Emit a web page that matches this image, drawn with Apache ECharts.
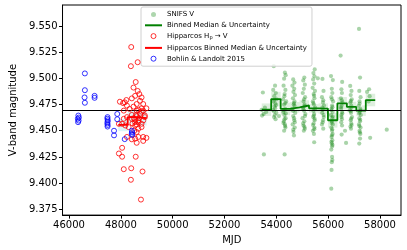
<!DOCTYPE html>
<html><head><meta charset="utf-8">
<script src="https://cdn.jsdelivr.net/npm/echarts@6/dist/echarts.min.js"></script>
<style>html,body{margin:0;padding:0;background:#fff}#c{width:407px;height:250px}</style>
</head><body><div id="c"></div>
<script>
// ---- data ----
const xTicks = [46000, 48000, 50000, 52000, 54000, 56000, 58000];
const yTicks = [9.375, 9.400, 9.425, 9.450, 9.475, 9.500, 9.525, 9.550];
const referenceMag = 9.4722;

const snifsV = [
 [53480,9.4865],[53560,9.4720],[53430,9.4700],[53610,9.4680],[53510,9.4660],[53450,9.4645],[53520,9.4274],
 [53900,9.5116],[53950,9.4930],[53880,9.4890],[53980,9.4860],[53920,9.4830],[54010,9.4800],[53890,9.4780],[53960,9.4760],[53930,9.4730],[53870,9.4700],[54000,9.4670],[53940,9.4650],[53910,9.4630],[53970,9.4610],[54100,9.4640],
 [53990,9.4745],[53905,9.4685],[53955,9.4715],[53925,9.4795],
 [54330,9.5054],[54360,9.5030],[54300,9.4997],[54280,9.4930],[54350,9.4890],[54320,9.4850],[54260,9.4800],[54380,9.4780],[54300,9.4750],[54340,9.4710],[54270,9.4680],[54310,9.4650],[54360,9.4620],[54290,9.4590],[54330,9.4560],[54350,9.4530],[54300,9.4500],[54320,9.4274],
 [54310,9.4830],[54345,9.4765],[54285,9.4695],[54365,9.4665],[54315,9.4610],[54275,9.4575],[54340,9.4545],
 [54650,9.4990],[54700,9.4960],[54620,9.4930],[54690,9.4900],[54660,9.4870],[54720,9.4840],[54640,9.4810],[54700,9.4780],[54670,9.4750],[54610,9.4710],[54730,9.4670],[54650,9.4640],[54690,9.4600],[54630,9.4560],[54710,9.4530],[54660,9.4490],[54680,9.4455],
 [54680,9.4765],[54705,9.4735],[54645,9.4690],[54685,9.4620],[54715,9.4580],[54655,9.4510],
 [55080,9.5007],[55040,9.4980],[55100,9.4940],[55060,9.4900],[55020,9.4860],[55110,9.4820],[55050,9.4780],[55090,9.4750],[55030,9.4720],[55070,9.4690],[55120,9.4660],[55010,9.4620],[55080,9.4590],[55050,9.4550],[55100,9.4520],[55060,9.4500],
 [55070,9.4800],[55095,9.4735],[55045,9.4705],[55105,9.4640],[55035,9.4570],[55085,9.4535],
 [55480,9.5085],[55430,9.5050],[55470,9.5020],[55420,9.4990],[55460,9.4950],[55400,9.4910],[55490,9.4880],[55440,9.4850],[55470,9.4810],[55410,9.4780],[55450,9.4750],[55500,9.4720],[55430,9.4690],[55460,9.4660],[55420,9.4630],[55480,9.4600],[55440,9.4570],[55470,9.4530],[55410,9.4500],[55450,9.4470],[55460,9.4390],[55600,9.5000],
 [55455,9.4835],[55425,9.4765],[55485,9.4705],[55445,9.4645],[55475,9.4615],[55415,9.4555],[55465,9.4515],
 [55780,9.4995],[55820,9.4880],[55760,9.4820],[55800,9.4770],[55840,9.4740],[55790,9.4700],[55770,9.4670],[55830,9.4630],[55800,9.4600],[55760,9.4560],[55810,9.4520],
 [55810,9.4790],[55775,9.4720],[55825,9.4650],[55790,9.4580],
 [56110,9.5022],[56180,9.4984],[56140,9.4900],[56160,9.4860],[56120,9.4820],[56190,9.4780],[56150,9.4740],[56130,9.4710],[56170,9.4680],[56110,9.4650],[56160,9.4620],[56140,9.4590],[56180,9.4560],[56120,9.4530],[56150,9.4500],[56170,9.4470],[56130,9.4440],[56160,9.4410],[56140,9.4380],[56150,9.4350],[56120,9.4320],[56160,9.4220],[56140,9.4200],[56130,9.4126],[56120,9.3947],
 [56145,9.4800],[56165,9.4725],[56125,9.4695],[56175,9.4635],[56135,9.4575],[56155,9.4515],[56145,9.4455],[56125,9.4395],[56165,9.4365],[56150,9.4250],
 [56480,9.5217],[56540,9.4966],[56510,9.4896],[56530,9.4860],[56490,9.4810],[56550,9.4770],[56520,9.4740],[56500,9.4710],[56540,9.4680],[56510,9.4650],[56530,9.4610],[56520,9.4463],[56690,9.4384],[56650,9.4500],
 [56525,9.4790],[56495,9.4725],[56545,9.4665],[56515,9.4630],[56505,9.4580],[56535,9.4550],
 [56850,9.4928],[56900,9.4880],[56870,9.4840],[56910,9.4800],[56860,9.4770],[56890,9.4740],[56840,9.4700],[56880,9.4670],[56920,9.4630],[56870,9.4600],[56890,9.4570],[56860,9.4540],[56880,9.4520],
 [56875,9.4785],[56895,9.4720],[56865,9.4685],[56885,9.4615],[56905,9.4555],
 [57190,9.5472],[57230,9.5007],[57200,9.4880],[57250,9.4820],[57210,9.4780],[57180,9.4740],[57240,9.4710],[57220,9.4680],[57260,9.4650],[57200,9.4620],[57230,9.4590],[57190,9.4560],[57250,9.4530],[57210,9.4500],[57240,9.4470],[57230,9.4425],[57200,9.4378],
 [57215,9.4760],[57245,9.4695],[57195,9.4665],[57235,9.4605],[57205,9.4545],[57225,9.4485],
 [57580,9.4896],[57600,9.4830],[57560,9.4780],[57620,9.4432],[57500,9.4870],
 [58260,9.4510]
];

const snifsBinEdges = [53436, 53801, 54166, 54531, 54896, 55261, 55626, 55991, 56356, 56721, 57086, 57451, 57816];
const snifsBinMedian = [9.4701, 9.4802, 9.4708, 9.4724, 9.4741, 9.4714, 9.4712, 9.4600, 9.4762, 9.4727, 9.4692, 9.4793];
const snifsBinErr = [0.006, 0.007, 0.006, 0.005, 0.005, 0.004, 0.005, 0.007, 0.006, 0.005, 0.005, 0.006];

const hipparcosV = [
 [48401,9.5299],[48388,9.5116],[48649,9.5154],[48574,9.4965],[48488,9.4912],[48649,9.4880],[48713,9.4850],[48551,9.4833],[48799,9.4818],[48424,9.4809],
 [48739,9.4786],[48214,9.4793],[47963,9.4777],[48086,9.4764],[48150,9.4771],[48611,9.4755],[48863,9.4755],[48236,9.4739],[48488,9.4730],[48338,9.4708],
 [48799,9.4714],[48986,9.4714],[48675,9.4701],[48863,9.4692],[48113,9.4692],[48589,9.4651],[48739,9.4660],[48926,9.4630],[48236,9.4630],[48424,9.4614],
 [48113,9.4614],[48675,9.4597],[48551,9.4582],[47925,9.4566],[48175,9.4550],[48799,9.4566],
 [48611,9.4692],[48799,9.4682],[48424,9.4651],[48926,9.4645],[48551,9.4607],[48675,9.4582],[48863,9.4598],[48049,9.4566],[48300,9.4535],[48551,9.4550],
 [48675,9.4519],[48799,9.4535],[48611,9.4488],[48236,9.4441],[48675,9.4441],[48863,9.4441],[48986,9.4432],[48424,9.4418],[48551,9.4425],[48611,9.4385],
 [48863,9.4403],[48049,9.4337],[47925,9.4283],[48049,9.4252],[48574,9.4252],[48113,9.4133],[48401,9.4142],[48836,9.4111],[48388,9.4032],[48776,9.3843],
 [48500,9.4620],[48600,9.4560],[48450,9.4570],[48700,9.4620],[48520,9.4500],[48620,9.4640]
];

const hipBinEdges = [47900, 48265, 48630, 48995];
const hipBinMedian = [9.4556, 9.4630, 9.4620];
const hipBinErr = [0.006, 0.006, 0.007];

const bohlinLandolt = [
 [46361,9.4645],[46380,9.4626],[46340,9.4614],[46370,9.4597],[46350,9.4582],
 [46612,9.5047],[46612,9.4887],[46600,9.4818],[46612,9.4767],
 [46987,9.4833],[46987,9.4814],
 [47487,9.4630],[47480,9.4615],[47495,9.4600],[47487,9.4585],[47480,9.4570],[47490,9.4555],[47487,9.4540],
 [47737,9.4500],[47737,9.4456],[48150,9.4420],
 [47862,9.4660],[47862,9.4610],
 [48424,9.4500],[48430,9.4485],[48420,9.4470],[48440,9.4460]
];

// ---- build helpers ----
function stepData(edges, med) {
  const d = med.map((m, i) => [edges[i], m]);
  d.push([edges[edges.length - 1], med[med.length - 1]]);
  return d;
}
function bandData(edges, med, err) {
  return med.map((m, i) => [edges[i], edges[i + 1], m - err[i], m + err[i]]);
}
function bandRender(fill) {
  return function (params, api) {
    const p0 = api.coord([api.value(0), api.value(3)]);
    const p1 = api.coord([api.value(1), api.value(2)]);
    return { type: 'rect', shape: { x: p0[0], y: p0[1], width: p1[0] - p0[0], height: p1[1] - p0[1] }, style: { fill: fill } };
  };
}

const font = 'DejaVu Sans';
const chart = echarts.init(document.getElementById('c'), null, { renderer: 'canvas' });
chart.setOption({
  animation: false,
  textStyle: { fontFamily: font },
  grid: { left: 52, right: 6, top: 5, bottom: 34, show: true, borderColor: '#000', borderWidth: 1, backgroundColor: 'transparent' },
  xAxis: {
    type: 'value', min: 45750, max: 58810,
    name: 'MJD', nameLocation: 'middle', nameGap: 19,
    nameTextStyle: { fontFamily: font, fontSize: 10, color: '#000' },
    axisLine: { show: true, onZero: false, lineStyle: { color: '#000', width: 1 } },
    axisTick: { show: true, length: 3.5, customValues: xTicks, lineStyle: { color: '#000' } },
    axisLabel: { customValues: xTicks, fontFamily: font, fontSize: 10, color: '#000', margin: 5, formatter: v => String(Math.round(v)) },
    splitLine: { show: false }
  },
  yAxis: {
    type: 'value', min: 9.3695, max: 9.570,
    name: 'V-band magnitude', nameLocation: 'middle', nameGap: 37, nameRotate: 90,
    nameTextStyle: { fontFamily: font, fontSize: 10, color: '#000' },
    axisLine: { show: true, onZero: false, lineStyle: { color: '#000', width: 1 } },
    axisTick: { show: true, length: 3.5, customValues: yTicks, lineStyle: { color: '#000' } },
    axisLabel: { customValues: yTicks, fontFamily: font, fontSize: 10, color: '#000', margin: 5, formatter: v => v.toFixed(3) },
    splitLine: { show: false }
  },
  legend: {
    left: 141, top: 7, orient: 'vertical', itemGap: 3.8, itemWidth: 17, itemHeight: 5,
    padding: [4, 5, 4, 3],
    backgroundColor: 'rgba(255,255,255,0.8)', borderColor: '#d0d0d0', borderWidth: 1, borderRadius: 2,
    textStyle: { fontFamily: font, fontSize: 7, color: '#000', rich: { sub: { fontSize: 5, verticalAlign: 'bottom', padding: [4, 0, 0, 0], fontFamily: font } } },
    formatter: n => n === 'Hipparcos Hp → V' ? 'Hipparcos H{sub|p} → V' : n,
    data: [
      { name: 'SNIFS V', icon: 'circle', itemStyle: { color: 'rgba(0,128,0,0.4)' } },
      { name: 'Binned Median & Uncertainty', itemStyle: { color: 'rgba(0,0,0,0)', borderWidth: 0 } },
      { name: 'Hipparcos Hp → V', icon: 'circle', itemStyle: { color: 'rgba(255,255,255,0)', borderColor: '#ff0000', borderWidth: 1 } },
      { name: 'Hipparcos Binned Median & Uncertainty', itemStyle: { color: 'rgba(0,0,0,0)', borderWidth: 0 } },
      { name: 'Bohlin & Landolt 2015', icon: 'circle', itemStyle: { color: 'rgba(255,255,255,0)', borderColor: '#0000ff', borderWidth: 1 } }
    ]
  },
  series: [
    { name: 'SNIFS V', type: 'scatter', data: snifsV, symbol: 'circle', symbolSize: 4.2, z: 2,
      itemStyle: { color: 'rgba(0,128,0,0.42)' } },
    { name: 'snifsBand', type: 'custom', data: bandData(snifsBinEdges, snifsBinMedian, snifsBinErr), z: 3,
      renderItem: bandRender('rgba(0,128,0,0.13)'), encode: { x: [0, 1], y: [2, 3] }, silent: true },
    { name: 'Binned Median & Uncertainty', type: 'line', step: 'end', data: stepData(snifsBinEdges, snifsBinMedian), z: 4,
      symbol: 'none', lineStyle: { color: '#008000', width: 1.8 }, itemStyle: { color: '#008000' } },
    { name: 'hipBand', type: 'custom', data: bandData(hipBinEdges, hipBinMedian, hipBinErr), z: 3,
      renderItem: bandRender('rgba(0,190,210,0.15)'), encode: { x: [0, 1], y: [2, 3] }, silent: true },
    { name: 'Hipparcos Hp → V', type: 'scatter', data: hipparcosV, symbol: 'circle', symbolSize: 5, z: 5,
      itemStyle: { color: 'rgba(255,255,255,0)', borderColor: '#ff0000', borderWidth: 1 } },
    { name: 'Hipparcos Binned Median & Uncertainty', type: 'line', step: 'end', data: stepData(hipBinEdges, hipBinMedian), z: 6,
      symbol: 'none', lineStyle: { color: '#ff0000', width: 1.8 }, itemStyle: { color: '#ff0000' } },
    { name: 'Bohlin & Landolt 2015', type: 'scatter', data: bohlinLandolt, symbol: 'circle', symbolSize: 5, z: 7,
      itemStyle: { color: 'rgba(255,255,255,0)', borderColor: '#0000ff', borderWidth: 1 } },
    { name: 'refLine', type: 'line', data: [], z: 8, silent: true,
      markLine: { silent: true, symbol: 'none', label: { show: false },
        lineStyle: { color: '#000', width: 1.1, type: 'solid' }, data: [{ yAxis: referenceMag }] } }
  ]
});
</script>
</body></html>
